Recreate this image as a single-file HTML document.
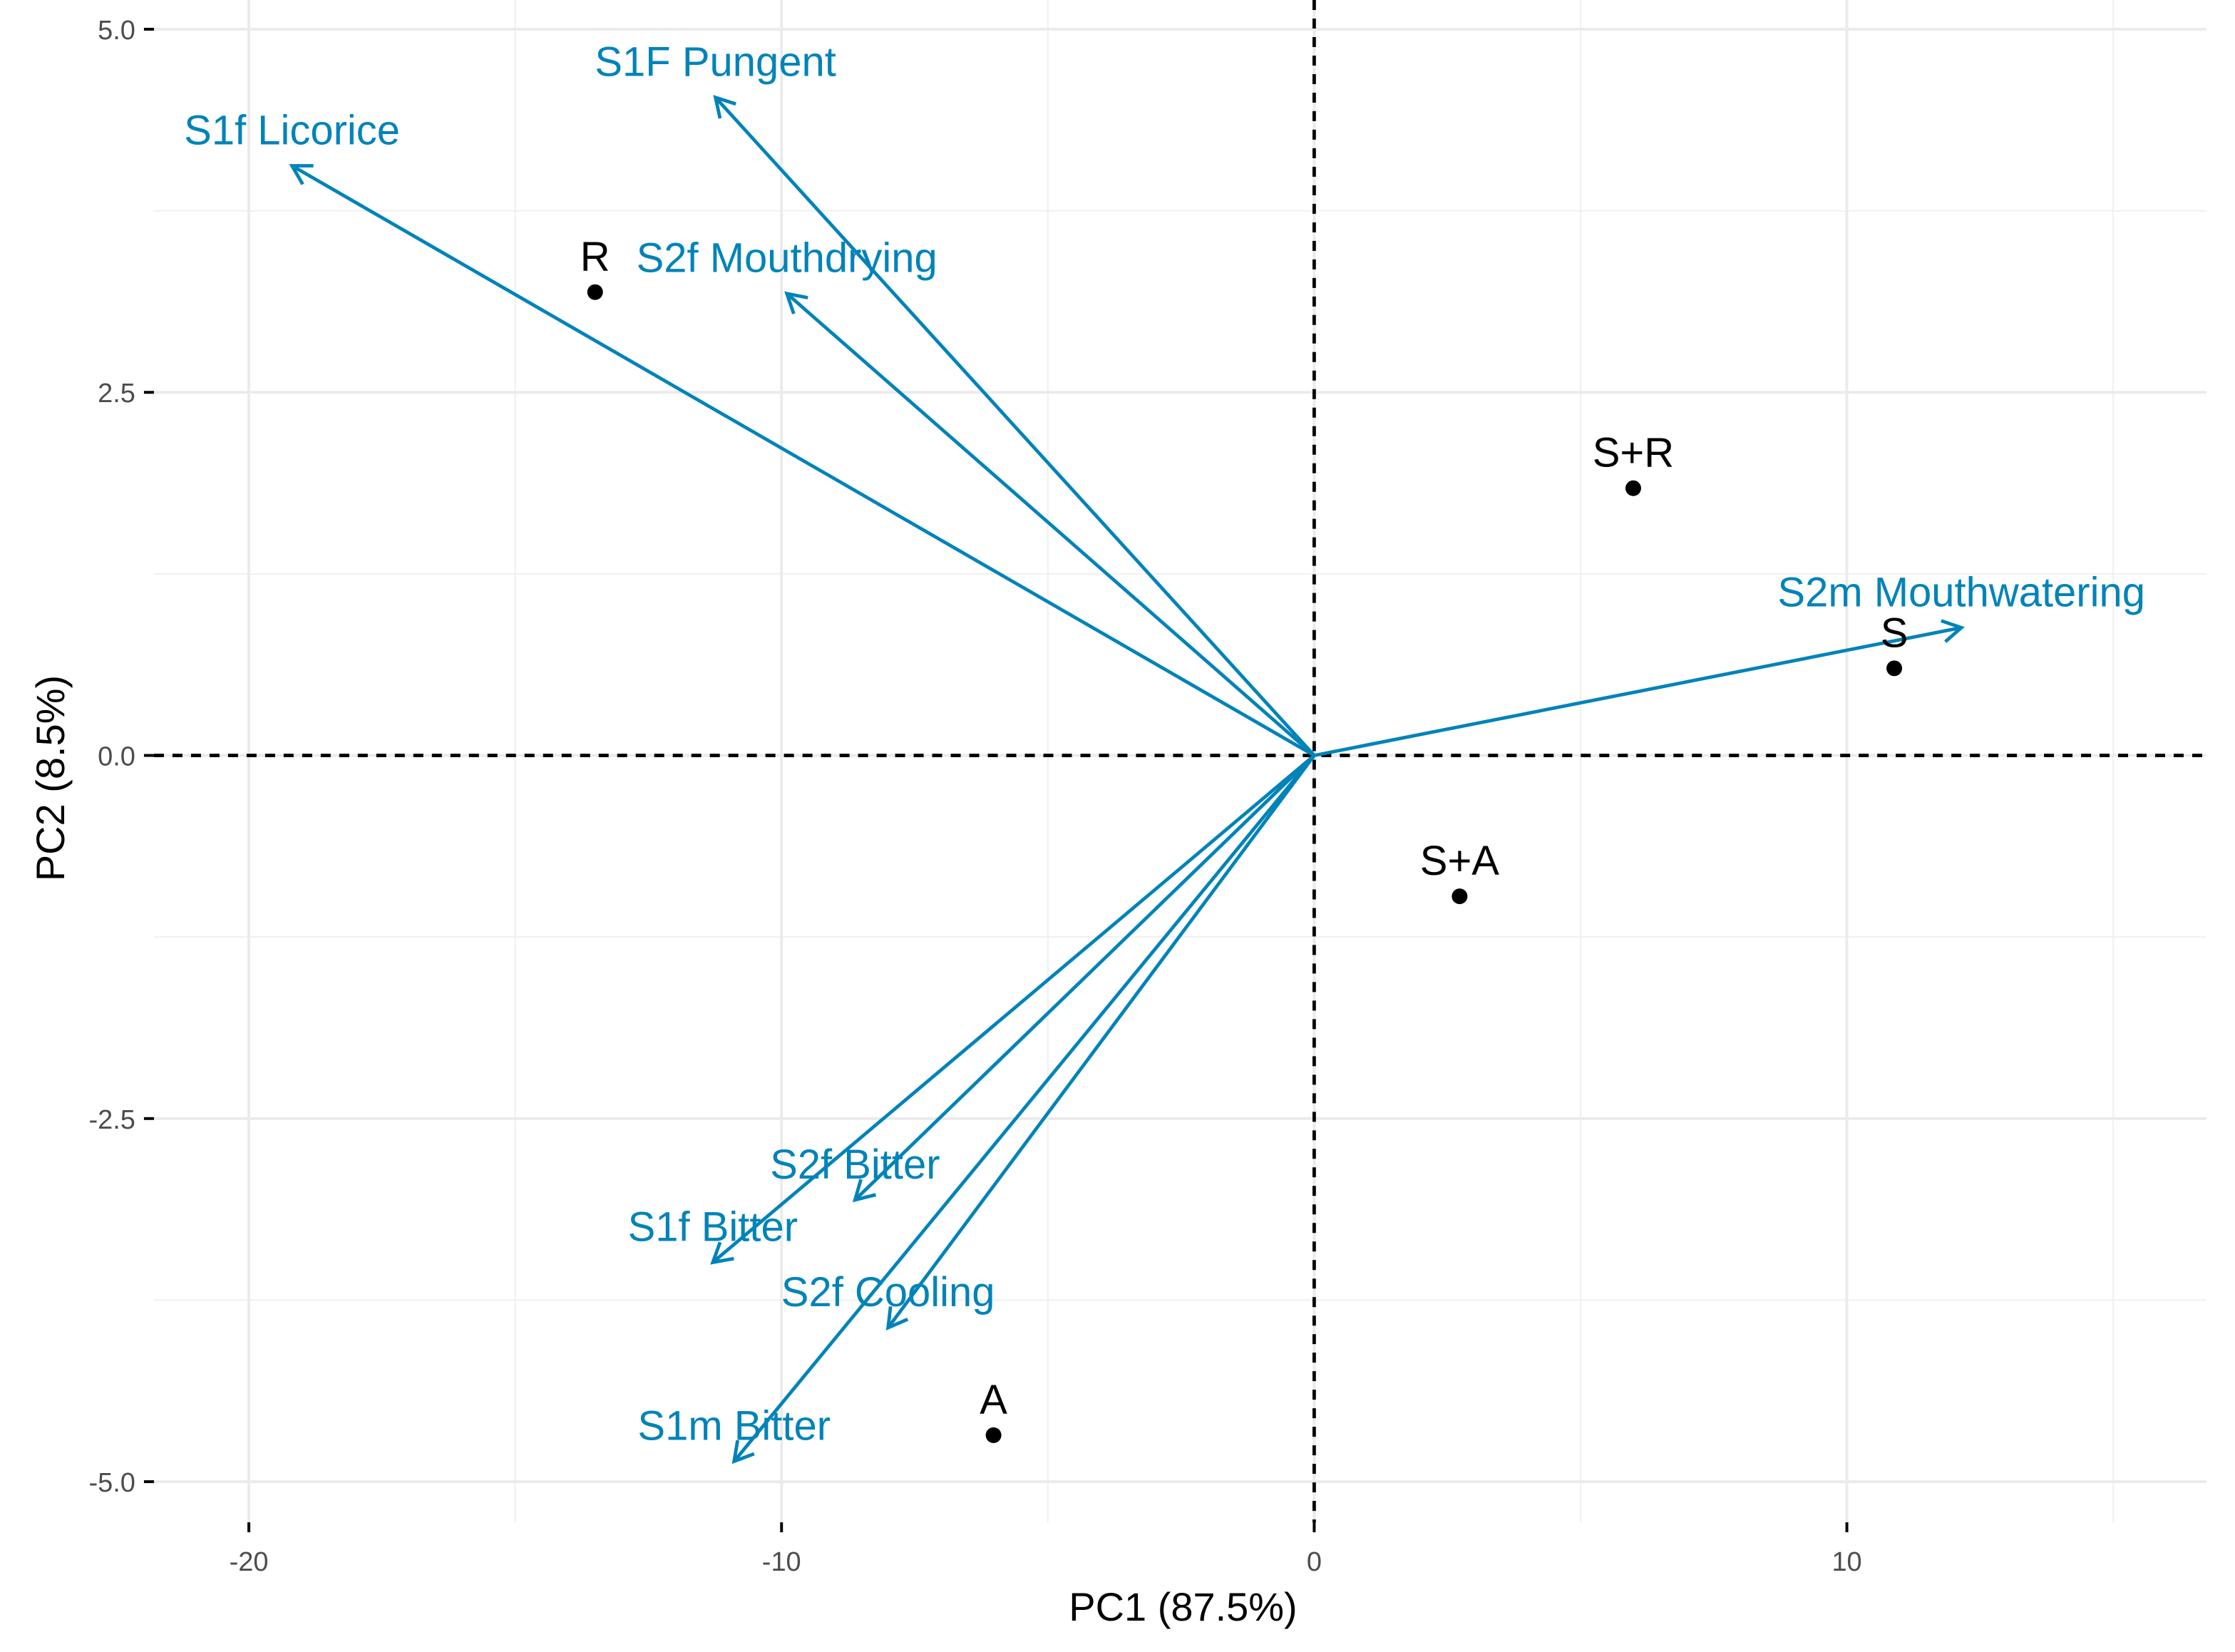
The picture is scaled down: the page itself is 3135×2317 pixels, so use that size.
<!DOCTYPE html>
<html><head><meta charset="utf-8"><style>
html,body{margin:0;padding:0;background:#fff}
svg{display:block;font-family:"Liberation Sans",Arial,sans-serif}
</style></head><body>
<svg id="chart" width="3135" height="2317" viewBox="0 0 1568 1159" preserveAspectRatio="none" xmlns="http://www.w3.org/2000/svg">
<g id="grid"></g>
<g id="axes"></g>
<g id="vectors"></g>
<g id="points"></g>
</svg>
<script>
const pointLabels = ["R","S+R","S","S+A","A"];
const pointX = [-13.5, 5.99, 10.89, 2.73, -6.02];
const pointY = [3.19, 1.84, 0.60, -0.97, -4.68];
const vecLabels = ["S1f Licorice","S1F Pungent","S2f Mouthdrying","S2m Mouthwatering","S2f Bitter","S1f Bitter","S2f Cooling","S1m Bitter"];
const vecX = [-19.19, -11.24, -9.90, 12.15, -8.62, -11.29, -8.0, -10.89];
const vecY = [4.06, 4.53, 3.18, 0.88, -3.06, -3.49, -3.94, -4.86];
const xTicks = [-20, -10, 0, 10];
const xTickLabels = ["-20","-10","0","10"];
const xMinor = [-15, -5, 5, 15];
const yTicks = [-5, -2.5, 0, 2.5, 5];
const yTickLabels = ["-5.0","-2.5","0.0","2.5","5.0"];
const yMinor = [-3.75, -1.25, 1.25, 3.75];

const L=108, R=1548, T=0, B=1068;
const sx = v => 922 + v*37.37;
const sy = v => 530 - v*101.9;
const NS="http://www.w3.org/2000/svg";
function mk(tag, parent, attrs){const e=document.createElementNS(NS,tag);for(const k in attrs)e.setAttribute(k,attrs[k]);parent.appendChild(e);return e;}
const grid=document.getElementById('grid'), axes=document.getElementById('axes'), vg=document.getElementById('vectors'), pg=document.getElementById('points');

xMinor.forEach(v=>{const e=mk('line',grid,{x1:sx(v),x2:sx(v),y1:T,y2:B,stroke:'#f0f0f0','stroke-width':1});

});
yMinor.forEach(v=>{const e=mk('line',grid,{x1:L,x2:R,y1:sy(v),y2:sy(v),stroke:'#f0f0f0','stroke-width':1});

});
xTicks.forEach((v,i)=>{const e=mk('line',grid,{x1:sx(v),x2:sx(v),y1:T,y2:B,stroke:'#ebebeb','stroke-width':2});


const t=mk('line',axes,{x1:sx(v),x2:sx(v),y1:B,y2:B+7,stroke:'#000','stroke-width':2});


const l=mk('text',axes,{x:sx(v),y:B+34,'text-anchor':'middle','font-size':19,fill:'#4d4d4d'});l.textContent=xTickLabels[i];

});
yTicks.forEach((v,i)=>{const e=mk('line',grid,{x1:L,x2:R,y1:sy(v),y2:sy(v),stroke:'#ebebeb','stroke-width':2});


const t=mk('line',axes,{x1:L-7,x2:L,y1:sy(v),y2:sy(v),stroke:'#000','stroke-width':2});


const l=mk('text',axes,{x:L-13,y:sy(v)+7,'text-anchor':'end','font-size':19,fill:'#4d4d4d'});l.textContent=yTickLabels[i];

});
let h=mk('line',axes,{x1:L,x2:R,y1:sy(0),y2:sy(0),stroke:'#000','stroke-width':2.4,'stroke-dasharray':'7 6'});


let vz=mk('line',axes,{x1:sx(0),x2:sx(0),y1:T,y2:B,stroke:'#000','stroke-width':2.4,'stroke-dasharray':'7 6'});


let xt=mk('text',axes,{x:830,y:1137,'text-anchor':'middle','font-size':28,fill:'#000'});xt.textContent='PC1 (87.5%)';


let yt=mk('text',axes,{x:0,y:0,'text-anchor':'middle','font-size':28,fill:'#000',transform:'translate(45,546) rotate(-90)'});yt.textContent='PC2 (8.5%)';



const C='#0083b9';
vecLabels.forEach((name,i)=>{
 const x0=sx(0),y0=sy(0),x1=sx(vecX[i]),y1=sy(vecY[i]);
 const g=mk('g',vg,{});
 
 
 mk('line',g,{x1:x0,y1:y0,x2:x1,y2:y1,stroke:C,'stroke-width':2.4});
 const a=Math.atan2(y1-y0,x1-x0),len=15,sp=Math.PI/6;
 const p=`M${x1-len*Math.cos(a-sp)},${y1-len*Math.sin(a-sp)} L${x1},${y1} L${x1-len*Math.cos(a+sp)},${y1-len*Math.sin(a+sp)}`;
 mk('path',g,{d:p,fill:'none',stroke:C,'stroke-width':2.4});
 const t=mk('text',vg,{x:x1,y:y1-15,'text-anchor':'middle','font-size':29,fill:C});t.textContent=name;
 
 
});
pointLabels.forEach((name,i)=>{
 const c=mk('circle',pg,{cx:sx(pointX[i]),cy:sy(pointY[i]),r:5.5,fill:'#000'});
 
 
 const t=mk('text',pg,{x:sx(pointX[i]),y:sy(pointY[i])-15,'text-anchor':'middle','font-size':29,fill:'#000'});t.textContent=name;
 
 
});
</script>
</body></html>
